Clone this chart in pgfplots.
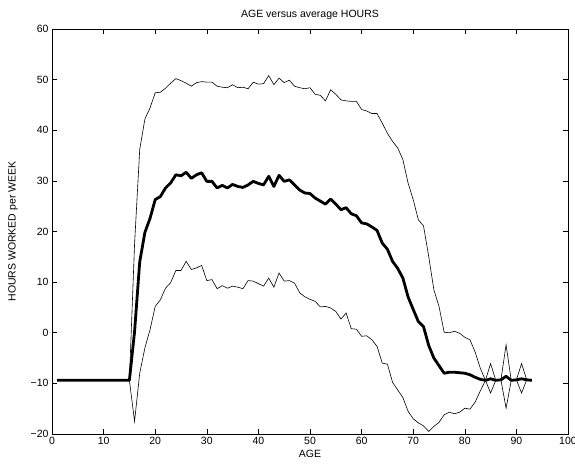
\documentclass[border=0pt]{standalone}
\usepackage{pgfplots}
\pgfplotsset{compat=1.18}
\usepackage{pgfplotstable}
\usepackage{fontspec}
\setmainfont{Liberation Sans}

% age, mean hours, upper band, lower band
\pgfplotstableread{
age mean upper lower
1 -9.4 -9.4 -9.4
2 -9.4 -9.4 -9.4
3 -9.4 -9.4 -9.4
4 -9.4 -9.4 -9.4
5 -9.4 -9.4 -9.4
6 -9.4 -9.4 -9.4
7 -9.4 -9.4 -9.4
8 -9.4 -9.4 -9.4
9 -9.4 -9.4 -9.4
10 -9.4 -9.4 -9.4
11 -9.4 -9.4 -9.4
12 -9.4 -9.4 -9.4
13 -9.4 -9.4 -9.4
14 -9.4 -9.4 -9.4
15 -9.4 -9.4 -9.4
16 0.2 17.5 -17.5
17 14.0 36.2 -8.0
18 19.8 42.2 -3.0
19 22.6 44.4 0.6
20 26.3 47.4 5.2
21 26.9 47.5 6.5
22 28.6 48.3 8.8
23 29.6 49.3 9.9
24 31.2 50.2 12.3
25 31.0 49.8 12.3
26 31.7 49.3 14.1
27 30.5 48.7 12.5
28 31.2 49.4 12.8
29 31.6 49.6 13.3
30 29.9 49.5 10.3
31 29.9 49.5 10.5
32 28.6 48.7 8.7
33 29.1 48.5 9.3
34 28.6 48.4 8.8
35 29.3 49.0 9.2
36 28.9 48.4 9.0
37 28.7 48.5 8.7
38 29.2 48.2 10.3
39 29.9 49.5 10.2
40 29.5 49.1 9.7
41 29.2 49.2 9.2
42 30.9 50.8 10.8
43 28.9 49.0 9.0
44 31.1 50.3 11.8
45 29.9 49.4 10.2
46 30.2 49.9 10.3
47 29.2 48.7 9.8
48 28.2 48.4 7.9
49 27.6 48.2 7.1
50 27.5 48.4 6.6
51 26.6 47.1 6.2
52 26.0 46.9 5.1
53 25.4 45.8 5.2
54 26.4 48.0 4.9
55 25.4 47.1 4.2
56 24.3 46.0 2.7
57 24.7 45.8 3.9
58 23.5 45.7 0.8
59 23.1 45.7 0.7
60 21.7 44.1 -0.7
61 21.5 43.8 -0.6
62 20.9 43.3 -1.4
63 20.2 43.3 -2.7
64 17.7 41.4 -6.0
65 16.5 39.4 -6.2
66 14.1 37.8 -9.8
67 12.7 36.5 -11.3
68 10.8 34.2 -12.8
69 7.1 29.6 -15.5
70 4.6 26.3 -17.0
71 2.2 22.3 -17.8
72 1.2 21.1 -18.4
73 -2.5 15.1 -19.5
74 -5.0 8.5 -18.5
75 -6.5 5.2 -17.7
76 -8.0 0.1 -16.2
77 -7.8 0.0 -15.7
78 -7.8 0.3 -16.0
79 -7.9 -0.1 -15.7
80 -8.0 -0.9 -14.9
81 -8.3 -1.4 -15.1
82 -8.8 -3.8 -13.7
83 -9.2 -7.0 -11.5
84 -9.4 -9.4 -9.4
85 -9.1 -6.1 -11.9
86 -9.4 -9.4 -9.4
87 -9.3 -9.3 -9.3
88 -8.6 -2.4 -14.9
89 -9.4 -9.4 -9.4
90 -9.3 -9.3 -9.3
91 -9.1 -6.1 -11.9
92 -9.3 -9.3 -9.3
93 -9.4 -9.4 -9.4
}\hours

\begin{document}
\begin{tikzpicture}
\begin{axis}[
    name=ax,
    scale only axis,
    width=516pt, height=405pt,
    xmin=0, xmax=100, ymin=-20, ymax=60,
    xtick={0,10,...,100},
    ytick={-20,-10,...,60},
    yticklabels={−20,−10,0,10,20,30,40,50,60},
    /pgf/number format/assume math mode=true,
    tick align=inside,
    major tick length=5pt,
    tick style={black, line width=0.5pt},
    axis line style={line width=0.7pt},
    ticklabel style={font=\fontsize{10.5}{12}\selectfont},
    label style={font=\fontsize{10.5}{12}\selectfont},
    title style={font=\fontsize{10.5}{12}\selectfont},
    title={AGE versus average HOURS},
    xlabel={AGE},
    ylabel={HOURS WORKED per WEEK},
    xlabel style={yshift=2pt},
    ylabel style={yshift=6pt},
    title style={yshift=0pt},
    clip=false,
]
  \addplot[black, line width=0.6pt] table[x=age, y=upper] {\hours};
  \addplot[black, line width=0.6pt] table[x=age, y=lower] {\hours};
  \addplot[black, line width=2.8pt, line join=round] table[x=age, y=mean] {\hours};
\end{axis}
\pgfresetboundingbox
\path[use as bounding box] ([xshift=-52pt,yshift=-32pt]ax.south west)
  rectangle ([xshift=7pt,yshift=29pt]ax.north east);
\end{tikzpicture}
\end{document}
